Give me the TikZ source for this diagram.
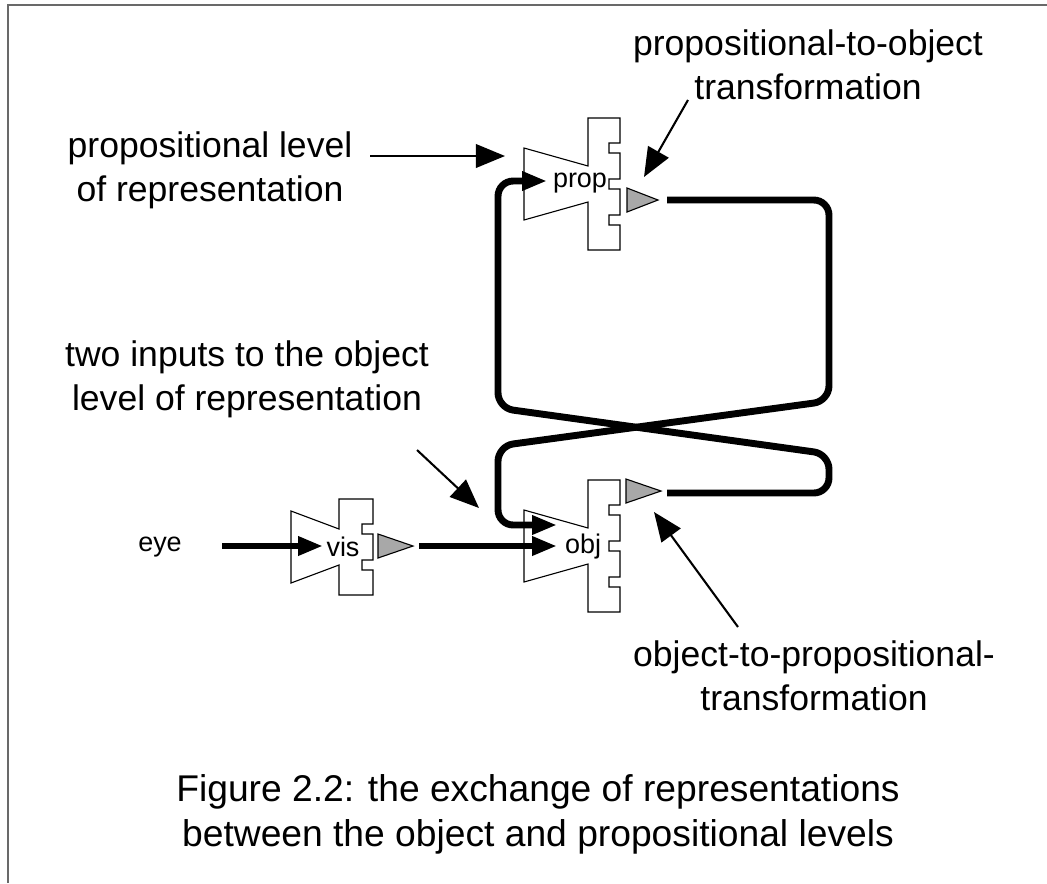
\documentclass[tikz,border=0pt]{standalone}
\usepackage{fontspec}
\setmainfont{Liberation Sans}
\usepackage{xcolor}
\usepackage{tikz}
\usetikzlibrary{arrows.meta}

\definecolor{gategray}{RGB}{168,168,168}
\definecolor{framegray}{RGB}{105,105,105}

\tikzset{
	modline/.style={draw=black, line width=0.8pt, fill=white},
	gate/.style={draw=black, line width=0.8pt, fill=gategray},
	flow/.style={line width=5pt, rounded corners=11pt, -{Triangle[length=18pt,width=13pt]}},
	callout/.style={line width=1.5pt, -{Triangle[length=21pt,width=17pt]}},
	lbl/.style={align=center, inner sep=0pt, font=\fontsize{25.7}{31.8}\selectfont},
	caplbl/.style={align=center, inner sep=0pt, font=\fontsize{26.9}{32.5}\selectfont},
	modlbl/.style={inner sep=0pt, font=\fontsize{19.5}{23}\selectfont},
	% funnel + notched block, three notches
	bigmod/.pic={
		\draw[modline] (-64,-36) -- (0,-18) -- (0,-66) -- (32,-66) -- (32,-41) -- (21,-41) -- (21,-31) -- (32,-31)
			-- (32,-5) -- (21,-5) -- (21,5) -- (32,5) -- (32,31) -- (21,31) -- (21,41) -- (32,41)
			-- (32,66) -- (0,66) -- (0,18) -- (-64,36) -- cycle;
	},
	% same, smaller block with two notches
	smallmod/.pic={
		\draw[modline] (-48,-36) -- (0,-18) -- (0,-48) -- (34,-48) -- (34,-23) -- (23,-23) -- (23,-13) -- (34,-13)
			-- (34,13) -- (23,13) -- (23,23) -- (34,23) -- (34,48) -- (0,48) -- (0,18) -- (-48,36) -- cycle;
	}
}

\begin{document}
\begin{tikzpicture}[x=0.0254cm, y=-0.0254cm]
	\useasboundingbox (0,0) rectangle (1047,883);
	\draw[framegray, line width=1.1pt] (8,883) -- (8,5) -- (1047,5);

	% the three modules
	\pic at (588,184) {bigmod};
	\pic at (588,546) {bigmod};
	\pic at (339,547) {smallmod};

	% grey output triangles
	\draw[gate] (627,188) -- (658,200) -- (627,212) -- cycle;
	\draw[gate] (626,479) -- (661,491) -- (626,503) -- cycle;
	\draw[gate] (378,534) -- (413,546) -- (378,558) -- cycle;

	% ports
	\coordinate (pin) at (547,181);
	\coordinate (pout) at (667,200);
	\coordinate (oin1) at (557,525);
	\coordinate (oin2) at (557,546);
	\coordinate (oout) at (667,493);
	\coordinate (vin) at (323,546);
	\coordinate (vout) at (419,546);
	\coordinate (eyeout) at (222,546);

	% crossed loop between the two levels
	\draw[flow] (pout) -- (829,200) -- (829,401) -- (498,446) -- (498,525) -- (oin1);
	\draw[flow] (oout) -- (829,493) -- (829,454) -- (498,408) -- (498,181) -- (pin);
	\draw[flow] (vout) -- (oin2);
	\draw[flow] (eyeout) -- (vin);

	% module names
	\node[modlbl] (prop) at (580,183) {prop};
	\node[modlbl] (obj) at (583,547) {obj};
	\node[modlbl] (vis) at (343,547) {vis};
	\node[modlbl] (eye) at (160,547) {eye};

	% labels and pointers
	\node[lbl] (plevel) at (210,170) {propositional level\\of representation};
	\node[lbl] (ptoo) at (808,65) {propositional-to-object\\transformation};
	\node[lbl] (twoin) at (247,379) {two inputs to the object\\level of representation};
	\node[lbl] (otop) at (814,676) {object-to-propositional-\\transformation};

	\coordinate (c1s) at (370,156);
	\coordinate (c1e) at (505,156);
	\coordinate (c2s) at (688,100);
	\coordinate (c2e) at (644,177);
	\coordinate (c3s) at (417,450);
	\coordinate (c3e) at (479,508);
	\coordinate (c4s) at (738,627);
	\coordinate (c4e) at (654,512);
	\draw[callout] (c1s) -- (c1e);
	\draw[callout] (c2s) -- (c2e);
	\draw[callout] (c3s) -- (c3e);
	\draw[callout] (c4s) -- (c4e);

	\node[caplbl] (caption) at (538,814) {Figure 2.2: the exchange of representations\\between the object and propositional levels};
\end{tikzpicture}
\end{document}
